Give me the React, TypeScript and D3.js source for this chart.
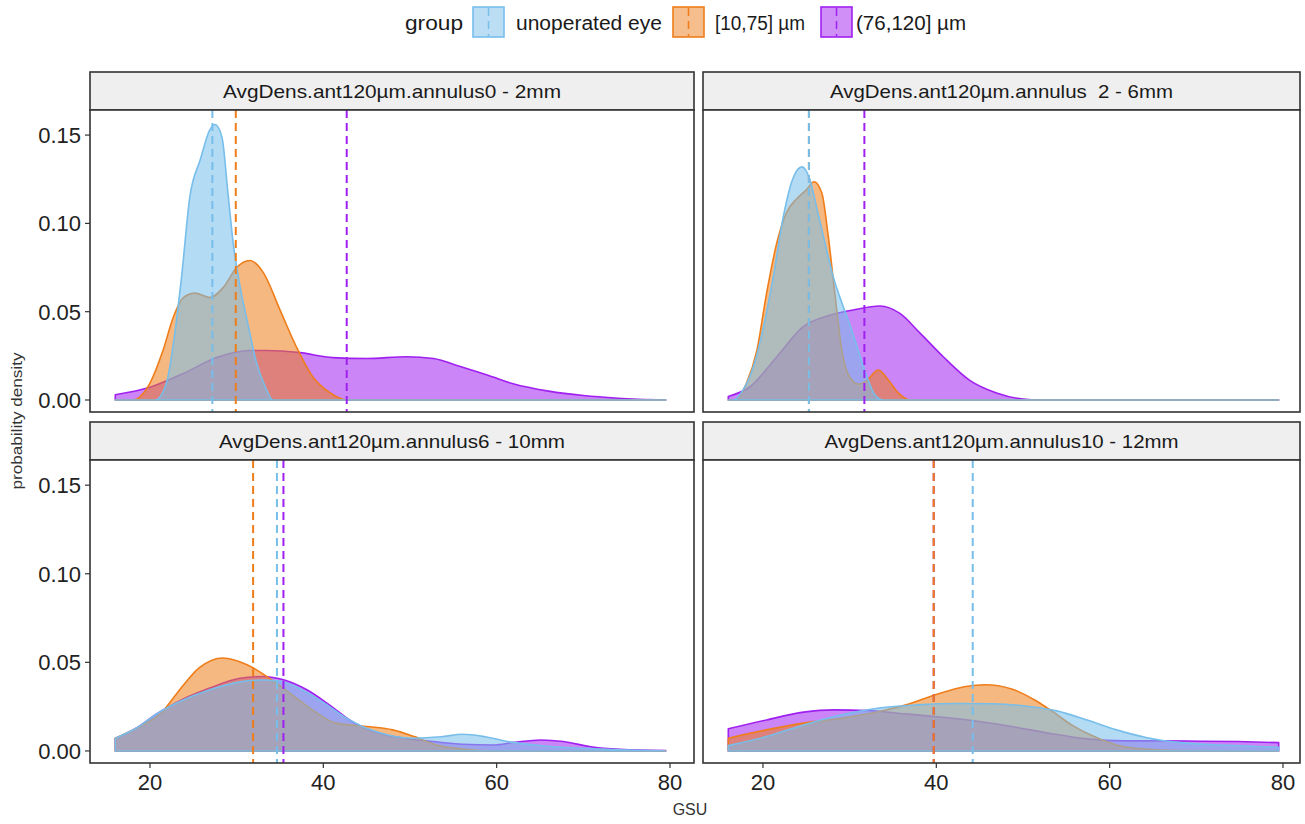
import React from "react";
import * as d3 from "d3";

// legend groups and colours
const groups = ["unoperated eye", "[10,75] µm", "(76,120] µm"];
const groupColors = ["#77BEEB", "#EE7D1A", "#A020F0"];

const panelTitles = [
  "AvgDens.ant120µm.annulus0 - 2mm",
  "AvgDens.ant120µm.annulus  2 - 6mm",
  "AvgDens.ant120µm.annulus6 - 10mm",
  "AvgDens.ant120µm.annulus10 - 12mm",
];

const xTicks = [20, 40, 60, 80];
const yTicks = [0, 0.05, 0.1, 0.15];

// group means (dashed lines), one per panel
const meanUnoperated = [27.2, 25.3, 34.65, 44.2];
const meanLow = [29.9, 25.3, 31.9, 39.7];
const meanHigh = [42.7, 31.7, 35.4, 39.7];

// densities: [GSU, density]
const a0Unop = [[16, 0], [20.6, 0], [21.9, 0.0096], [22.7, 0.032], [23.65, 0.07], [24.6, 0.115], [25.8, 0.136], [26.9, 0.153], [27.5, 0.156], [28.3, 0.149], [29.0, 0.117], [29.6, 0.089], [30.4, 0.064], [31.3, 0.043], [32.3, 0.021], [33.3, 0.0075], [34.2, 0], [79.5, 0]];
const a0Low = [[16, 0], [18, 0], [20, 0.0096], [21.5, 0.028], [22.7, 0.047], [23.85, 0.058], [25.2, 0.0605], [26.9, 0.058], [28.5, 0.064], [30, 0.075], [31.5, 0.079], [33.1, 0.072], [35, 0.051], [36.9, 0.03], [38.8, 0.013], [40.8, 0.004], [42.7, 0], [79.5, 0]];
const a0High = [[16, 0.003], [20, 0.0072], [23.85, 0.015], [27.7, 0.024], [31.5, 0.028], [33.5, 0.028], [37.3, 0.0268], [41.1, 0.024], [45, 0.0235], [49.6, 0.0245], [52.7, 0.0235], [55.8, 0.019], [59, 0.014], [62, 0.009], [66, 0.005], [70, 0.0025], [74, 0.001], [79.5, 0]];

const a2Unop = [[16, 0], [16.6, 0], [17.7, 0.0057], [18.9, 0.019], [20, 0.04], [21.2, 0.07], [22.35, 0.104], [23.5, 0.126], [24.5, 0.132], [25.4, 0.125], [26.2, 0.109], [27.15, 0.089], [28.1, 0.07], [29.1, 0.055], [30, 0.043], [31, 0.028], [32, 0.013], [32.9, 0.003], [33.9, 0], [79.5, 0]];
const a2Low = [[16, 0], [16.8, 0], [18.1, 0.0096], [19.3, 0.028], [20.4, 0.06], [21.6, 0.089], [22.7, 0.106], [23.9, 0.114], [25, 0.119], [25.9, 0.1236], [26.8, 0.117], [27.5, 0.094], [28.3, 0.06], [29.1, 0.028], [30, 0.013], [31, 0.009], [32, 0.011], [33.3, 0.017], [34.5, 0.011], [35.6, 0.004], [37, 0], [79.5, 0]];
const a2High = [[16, 0.002], [18.5, 0.0075], [21.6, 0.0245], [24.65, 0.0415], [27.7, 0.048], [30.4, 0.051], [33.5, 0.0532], [35.8, 0.049], [38.1, 0.038], [40.8, 0.0245], [43.9, 0.011], [46.95, 0.004], [50, 0.0005], [52, 0], [79.5, 0]];

const a6Unop = [[16, 0.0072], [18.4, 0.0128], [20.9, 0.0213], [23.5, 0.028], [26.9, 0.0345], [30.4, 0.039], [33, 0.04], [34.7, 0.0396], [36.8, 0.0364], [39.8, 0.028], [42.4, 0.0194], [45, 0.0128], [47.5, 0.009], [50.5, 0.0072], [53.6, 0.008], [56.1, 0.0094], [58.7, 0.008], [61.3, 0.0053], [65.6, 0.0028], [69.9, 0.0015], [74.2, 0.0006], [79.5, 0]];
const a6Low = [[16, 0.0072], [18.5, 0.013], [21.4, 0.022], [23.5, 0.035], [25.7, 0.047], [28.4, 0.0525], [31.2, 0.0487], [33.8, 0.041], [36.4, 0.0317], [39, 0.0223], [41.5, 0.0157], [45, 0.0138], [48, 0.0119], [50.5, 0.0081], [53.1, 0.0034], [56.1, 0.0011], [60, 0], [79.5, 0]];
const a6High = [[16, 0.007], [18.4, 0.0128], [20.9, 0.0213], [23.5, 0.0285], [26.9, 0.0355], [30.4, 0.041], [33, 0.042], [35.5, 0.04], [38.1, 0.0345], [40.7, 0.026], [43.3, 0.0166], [45.8, 0.011], [49.3, 0.0072], [52.7, 0.0053], [56.1, 0.0038], [59.6, 0.0034], [62.1, 0.0049], [65.1, 0.0062], [67.7, 0.0053], [70.7, 0.0025], [74.2, 0.0009], [79.5, 0.0002]];

const a10Unop = [[16, 0.003], [20.4, 0.0081], [24.7, 0.0147], [29.1, 0.0204], [33.4, 0.0242], [37.8, 0.026], [42.1, 0.0268], [46.5, 0.0266], [50.8, 0.0251], [53.9, 0.0226], [57.4, 0.0175], [60.8, 0.0119], [64.3, 0.0075], [68.2, 0.0047], [72.6, 0.0034], [76.9, 0.0025], [79.5, 0.002]];
const a10Low = [[16, 0.0072], [20.4, 0.0119], [24.7, 0.0157], [29.1, 0.0185], [33.4, 0.0223], [36.5, 0.026], [39.9, 0.0317], [43.4, 0.0364], [45.6, 0.0374], [48.7, 0.035], [51.3, 0.0289], [53.4, 0.0223], [55.6, 0.0147], [58.2, 0.0081], [60.8, 0.0034], [63.9, 0.0011], [68, 0.0002], [79.5, 0]];
const a10High = [[16, 0.0125], [20.4, 0.0175], [24.7, 0.0219], [28.2, 0.0232], [32.1, 0.0228], [35.6, 0.0213], [39.9, 0.0194], [44.3, 0.017], [48.7, 0.0138], [53, 0.01], [57.4, 0.0068], [61.7, 0.0057], [66.1, 0.0057], [70.4, 0.0055], [74.8, 0.0053], [79.5, 0.0047]];

const panelData = [
  [a0Unop, a0Low, a0High],
  [a2Unop, a2Low, a2High],
  [a6Unop, a6Low, a6High],
  [a10Unop, a10Low, a10High],
];
const panelMeans = [meanUnoperated, meanLow, meanHigh];

const W = 1305;
const H = 824;
const FONT = "'Liberation Sans', Arial, Helvetica, sans-serif";
const colX = [[90, 694], [703, 1300]];
const rowY = [
  { strip: 72, top: 110, bottom: 412 },
  { strip: 422, top: 460, bottom: 763 },
];
const titleWidths = [338, 343, 346, 354];
const drawOrder = [2, 1, 0];

function Panel({ idx }: { idx: number }) {
  const col = idx % 2;
  const row = Math.floor(idx / 2);
  const [x0, x1] = colX[col];
  const r = rowY[row];
  const x = d3.scaleLinear().domain([13.08, 82.77]).range([x0, x0 + 604]);
  const y = d3.scaleLinear().domain([-0.0068, 0.1642]).range([r.bottom, r.top]);
  const area = d3
    .area<number[]>()
    .x((d) => x(d[0]))
    .y0(y(0))
    .y1((d) => y(d[1]))
    .curve(d3.curveMonotoneX);
  const clipId = `clip${idx}`;
  return (
    <g>
      <defs>
        <clipPath id={clipId}>
          <rect x={x0} y={r.top} width={x1 - x0} height={r.bottom - r.top} />
        </clipPath>
      </defs>
      <rect x={x0} y={r.strip} width={x1 - x0} height={r.top - r.strip} fill="#EFEFEF" stroke="#333" strokeWidth={1.6} />
      <text
        x={(x0 + x1) / 2}
        y={(r.strip + r.top) / 2 + 7}
        textAnchor="middle"
        fontSize={19}
        fontFamily={FONT}
        fill="#1a1a1a"
        textLength={titleWidths[idx]}
        lengthAdjust="spacingAndGlyphs"
        style={{ whiteSpace: "pre" }}
      >
        {panelTitles[idx]}
      </text>
      <rect x={x0} y={r.top} width={x1 - x0} height={r.bottom - r.top} fill="white" />
      <g clipPath={`url(#${clipId})`}>
        {drawOrder.map((g) => (
          <path
            key={g}
            d={area(panelData[idx][g] as number[][]) || ""}
            fill={groupColors[g]}
            fillOpacity={0.55}
            stroke={groupColors[g]}
            strokeWidth={1.6}
            strokeLinejoin="round"
          />
        ))}
        {drawOrder.map((g) => (
          <line
            key={"m" + g}
            x1={x(panelMeans[g][idx])}
            x2={x(panelMeans[g][idx])}
            y1={r.top}
            y2={r.bottom}
            stroke={groupColors[g]}
            strokeWidth={2}
            strokeDasharray="8 5"
          />
        ))}
      </g>
      <rect x={x0} y={r.top} width={x1 - x0} height={r.bottom - r.top} fill="none" stroke="#333" strokeWidth={1.6} />
      {col === 0 &&
        yTicks.map((t) => (
          <g key={t}>
            <line x1={x0 - 5} x2={x0} y1={y(t)} y2={y(t)} stroke="#333" strokeWidth={1.2} />
            <text x={x0 - 9} y={y(t) + 8} textAnchor="end" fontSize={22} fontFamily={FONT} fill="#222">
              {t.toFixed(2)}
            </text>
          </g>
        ))}
      {row === 1 &&
        xTicks.map((t) => (
          <g key={t}>
            <line x1={x(t)} x2={x(t)} y1={r.bottom} y2={r.bottom + 5} stroke="#333" strokeWidth={1.2} />
            <text x={x(t)} y={r.bottom + 27} textAnchor="middle" fontSize={22} fontFamily={FONT} fill="#222">
              {t}
            </text>
          </g>
        ))}
    </g>
  );
}

function Legend() {
  const keyX = [473, 673, 821];
  const textX = [516, 715, 856];
  const textW = [146, 90, 110];
  return (
    <g fontFamily={FONT}>
      <text x={405} y={30} fontSize={21} fill="#1a1a1a" textLength={58} lengthAdjust="spacingAndGlyphs">group</text>
      {groups.map((g, i) => (
        <g key={g}>
          <rect x={keyX[i]} y={7} width={31} height={30} fill={groupColors[i]} fillOpacity={0.5} stroke={groupColors[i]} strokeWidth={1.6} />
          <line x1={keyX[i] + 15.5} x2={keyX[i] + 15.5} y1={8} y2={36} stroke={groupColors[i]} strokeWidth={1.5} strokeDasharray="8 5" />
          <text x={textX[i]} y={30} fontSize={20} fill="#1a1a1a" textLength={textW[i]} lengthAdjust="spacingAndGlyphs">{g}</text>
        </g>
      ))}
    </g>
  );
}

export default function App() {
  return (
    <svg width={W} height={H} style={{ position: "absolute", left: 0, top: 0, background: "white" }}>
      <rect width={W} height={H} fill="white" />
      <Legend />
      {[0, 1, 2, 3].map((i) => (
        <Panel key={i} idx={i} />
      ))}
      <text x={690} y={815} textAnchor="middle" fontSize={16} fontFamily={FONT} fill="#333">GSU</text>
      <text
        transform="translate(22,421) rotate(-90)"
        textAnchor="middle"
        fontSize={15}
        fontFamily={FONT}
        fill="#333"
        textLength={137}
        lengthAdjust="spacingAndGlyphs"
      >
        probability density
      </text>
    </svg>
  );
}
